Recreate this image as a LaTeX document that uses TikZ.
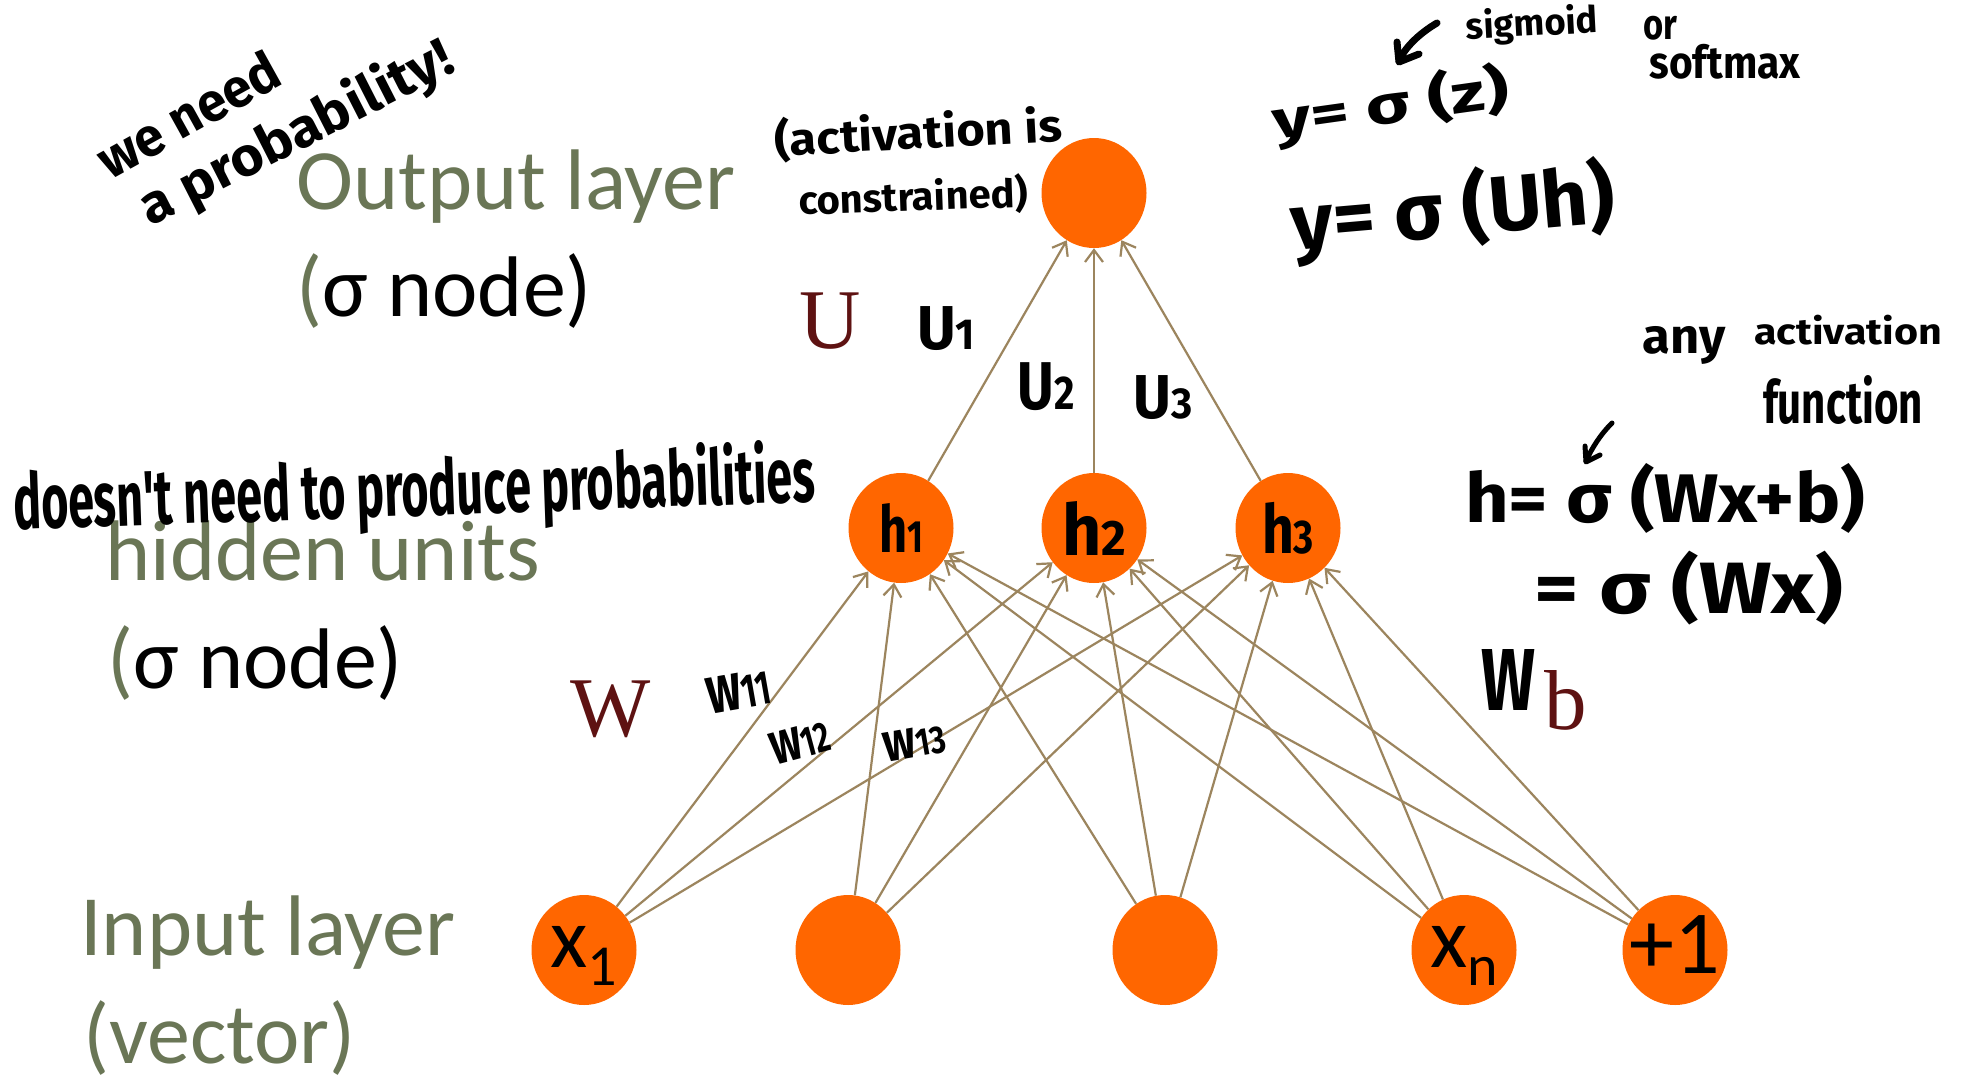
\documentclass[tikz,border=0pt]{standalone}
\usepackage{fontspec}
\usetikzlibrary{shapes.geometric,arrows.meta}
\newfontfamily\calfont{Carlito}
\newfontfamily\serfont{Liberation Serif}
\newfontfamily\handfont{Fira Sans}
\definecolor{nodeor}{RGB}{255,102,0}
\definecolor{edgecol}{RGB}{156,133,94}
\definecolor{lblgreen}{RGB}{106,118,86}
\definecolor{wmaroon}{RGB}{94,18,18}
\newcommand{\hw}[3]{\resizebox*{#1pt}{#2pt}{\handfont\bfseries\fontsize{40}{40}\selectfont #3}}
\newcommand{\hsub}[1]{{\fontsize{28}{28}\selectfont #1}}
\begin{document}
\begin{tikzpicture}[x=1pt,y=-1pt,
  neuron/.style={ellipse, fill=nodeor, draw=none, minimum width=105pt, minimum height=110pt, inner sep=0pt},
  conn/.style={draw=edgecol, line width=2.2pt, -{Straight Barb[length=12pt,width=18pt,line width=2.2pt]}},
  lbl/.style={font=\calfont\fontsize{86}{86}\selectfont, text=lblgreen, inner sep=0pt, anchor=base west},
  wlbl/.style={font=\serfont\fontsize{85}{85}\selectfont, text=wmaroon, inner sep=0pt, anchor=base west},
  hand/.style={inner sep=0pt, anchor=center, text=black},
  handarrow/.style={draw=black, line cap=round, line join=round}
]
\fill[white] (0,0) rectangle (1965,1079);
\useasboundingbox (0,0) rectangle (1965,1079);

% neurons
\node[neuron] (out) at (1094,193) {};
\node[neuron] (h1) at (901,528) {\makebox[0pt]{\hw{44}{49}{h\hsub{1}}}};
\node[neuron] (h2) at (1094,528) {\makebox[0pt]{\hw{64}{54}{h\hsub{2}}}};
\node[neuron] (h3) at (1288,528) {\makebox[0pt]{\hw{52}{52}{h\hsub{3}}}};
\node[neuron, font=\calfont\fontsize{86}{86}\selectfont, text height=40pt, text depth=6pt] (x1) at (584,950) {\makebox[0pt]{x\raisebox{-18pt}{\fontsize{58}{58}\selectfont 1}}};
\node[neuron] (x2) at (848,950) {};
\node[neuron] (x3) at (1165,950) {};
\node[neuron, font=\calfont\fontsize{86}{86}\selectfont, text height=40pt, text depth=6pt] (xn) at (1464,950) {\makebox[0pt]{x\raisebox{-18pt}{\fontsize{58}{58}\selectfont n}}};
\node[neuron, font=\calfont\fontsize{90}{90}\selectfont, text height=57pt, text depth=11pt] (bias) at (1675,950) {\makebox[0pt]{+1}};

% connections
\foreach \i in {x1,x2,x3,xn,bias}{
  \foreach \j in {h1,h2,h3}{
    \draw[conn] (\i) -- (\j);
  }
}
\foreach \j in {h1,h2,h3}{
  \draw[conn] (\j) -- (out);
}

% layer labels
\node[lbl] (outlbl) at (296,209) {Output layer};
\node[lbl] (outsig) at (296,316) {(\textcolor{black}{σ node)}};
\node[lbl] (hidlbl) at (105,580) {hidden units};
\node[lbl] (hidsig) at (107,688) {(\textcolor{black}{σ node)}};
\node[lbl] (inlbl) at (80,955) {Input layer};
\node[lbl] (invec) at (83,1063) {(vector)};

% weight matrix letters
\node[wlbl] (U) at (799,348) {U};
\node[wlbl] (W) at (570,736) {W};
\node[wlbl] (bb) at (1544,729) {b};

% handwritten notes
\node[hand, rotate=29] (n1) at (188,114) {\hw{200}{42}{we need}};
\node[hand, rotate=27] (n2) at (297,134) {\hw{345}{56}{a probability!}};
\node[hand, rotate=3] (n3) at (918,133) {\hw{288}{46}{(activation is}};
\node[hand, rotate=2] (n4) at (913,197) {\hw{229}{40}{constrained)}};
\node[hand] (u1) at (946,329) {\hw{58}{44}{U\hsub{1}}};
\node[hand] (u2) at (1046,387) {\hw{57}{48}{U\hsub{2}}};
\node[hand] (u3) at (1163,398) {\hw{59}{44}{U\hsub{3}}};
\node[hand, rotate=2] (n5) at (414,493) {\hw{802}{80}{doesn't need to produce probabilities}};
\node[hand, rotate=10] (w11) at (739,691) {\hw{64}{36}{w\hsub{11}}};
\node[hand, rotate=15] (w12) at (800,742) {\hw{60}{32}{w\hsub{12}}};
\node[hand, rotate=10] (w13) at (915,743) {\hw{62}{30}{w\hsub{13}}};
\node[hand] (wb) at (1508,680) {\hw{54}{61}{W}};
\node[hand, rotate=8] (yz) at (1391,106) {\hw{238}{58}{y= σ (z)}};
\node[hand, rotate=5] (yuh) at (1453,211) {\hw{325}{85}{y= σ (Uh)}};
\node[hand, rotate=3] (sig) at (1532,25) {\hw{132}{38}{sigmoid}};
\node[hand] (or) at (1660,28) {\hw{34}{24}{or}};
\node[hand] (soft) at (1725,62) {\hw{151}{35}{softmax}};
\node[hand] (any) at (1684,345) {\hw{83}{38}{any}};
\node[hand] (act) at (1848,330) {\hw{188}{30}{activation}};
\node[hand] (fun) at (1843,400) {\hw{160}{49}{function}};
\node[hand] (heq) at (1665,498) {\hw{400}{70}{h= σ (Wx+b)}};
\node[hand] (heq2) at (1689,588) {\hw{308}{74}{= σ (Wx)}};

% hand-drawn arrows
\draw[handarrow, line width=7pt] (1437,23) .. controls (1420,33) and (1405,47) .. (1399,61);
\draw[handarrow, line width=7pt] (1397,42) -- (1399,62) -- (1419,54);
\draw[handarrow, line width=5pt] (1612,423) .. controls (1600,435) and (1592,448) .. (1586,461);
\draw[handarrow, line width=5pt] (1585,446) -- (1586,462) -- (1600,455);
\end{tikzpicture}
\end{document}
